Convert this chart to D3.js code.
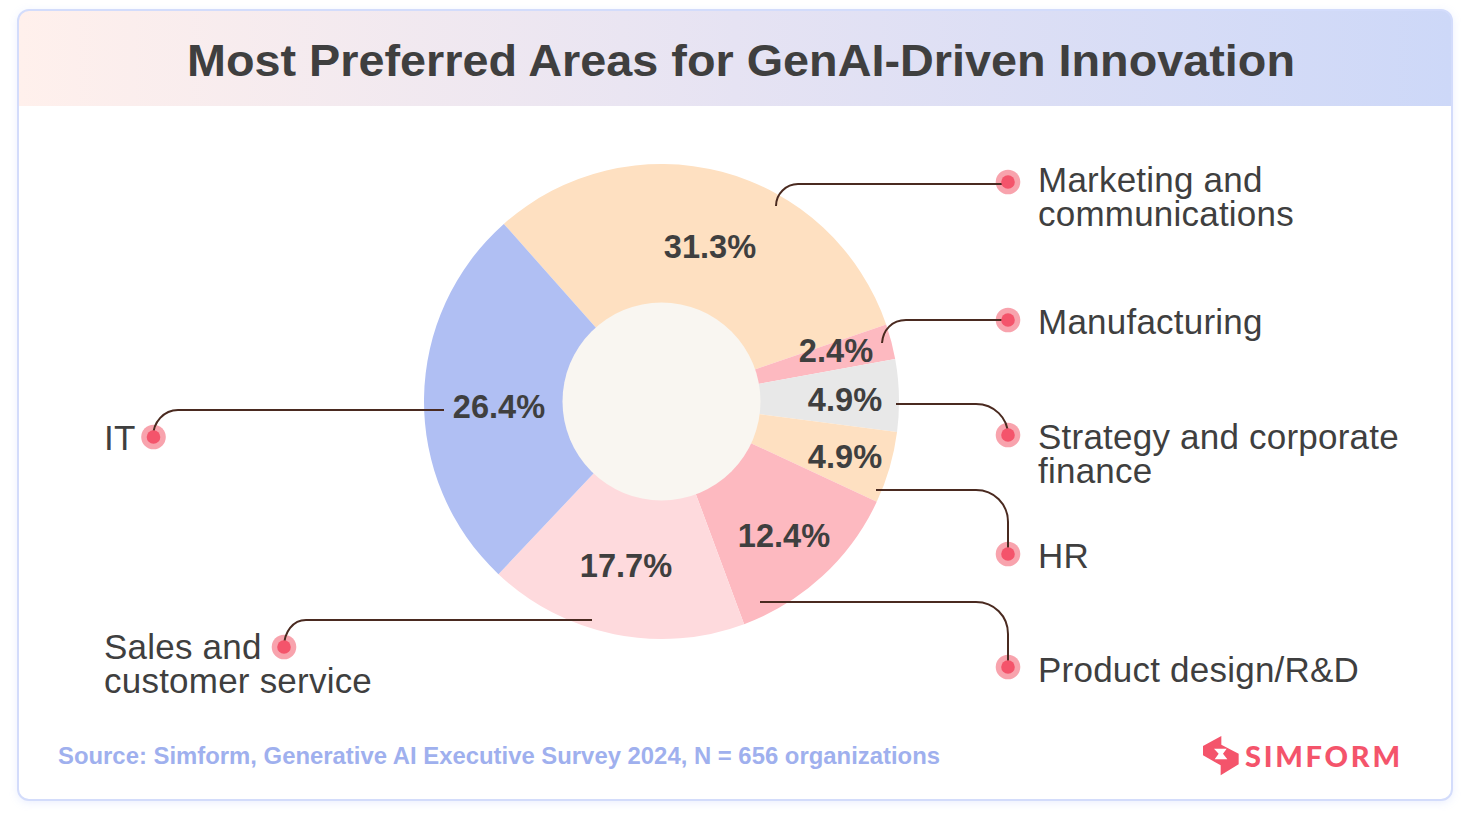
<!DOCTYPE html>
<html><head><meta charset="utf-8">
<script src="https://cdn.jsdelivr.net/npm/d3@7"></script>
<style>html,body{margin:0;padding:0;background:#fff}svg{display:block}text{font-family:"Liberation Sans",Arial,sans-serif}</style>
</head><body><div id="c"></div>
<script>
const titleText = "Most Preferred Areas for GenAI-Driven Innovation";
const sourceText = "Source: Simform, Generative AI Executive Survey 2024, N = 656 organizations";
const categories = ["Marketing and communications","Manufacturing","Strategy and corporate finance","HR","Product design/R&D","Sales and customer service","IT"];
const values = [31.3,2.4,4.9,4.9,12.4,17.7,26.4];
const sliceColors = ["#fee0c1","#fdb9c0","#e8e8e8","#fee0c1","#fdb9c0","#fedadd","#b0bff3"];
// label placement: [x, y] of the percent text centre
const pctPos = [[710,247],[836,351],[845,400],[845,457],[784,536],[626,566],[499,407]];
// callouts: label lines, text anchor, dot, leader path
const labelLines = [["Marketing and","communications"],["Manufacturing"],["Strategy and corporate","finance"],["HR"],["Product design/R&D"],["Sales and","customer service"],["IT"]];
const labelPos = [[1038,180],[1038,322],[1038,437],[1038,556],[1038,670],[104,647],[104,438]];
const dotPos = [[1008,182],[1008,320],[1008,435],[1008,554],[1008,667],[284,647],[153.5,437]];
const leaderPaths = [
 "M776,206V206C776,194 786,184 798,184H1008",
 "M882,343C883,330 892,320 906,320H1008",
 "M896,404H976C994,404 1008,418 1008,435",
 "M876,490H976C994,490 1008,504 1008,522V554",
 "M760,602H976C994,602 1008,616 1008,634V667",
 "M592,620H306C293,620 284,632 284,647",
 "M444,410H178C164,410 153,422 153,437"];
const logoShape = [[70,12],[70,38],[122,65],[122,97],[68,130],[68,100],[15,70],[15,42]];
const logoHole = [[48,50],[86,50],[75,65],[88,82],[50,82],[62,65]];

const W=1469,H=825;
const svg=d3.select("#c").append("svg").attr("width",W).attr("height",H);
const defs=svg.append("defs");
const g=defs.append("linearGradient").attr("id","hd");
g.selectAll("stop").data([[0,"#fff0ec"],[0.5,"#e6e3f3"],[1,"#cdd8f8"]]).join("stop")
 .attr("offset",d=>d[0]).attr("stop-color",d=>d[1]);
const f=defs.append("filter").attr("id","sh").attr("x","-3%").attr("y","-3%").attr("width","106%").attr("height","106%");
f.append("feDropShadow").attr("dx",0).attr("dy",2).attr("stdDeviation",5).attr("flood-color","#c9d3fb").attr("flood-opacity",.45);
defs.append("clipPath").attr("id","card").append("rect").attr("x",18).attr("y",10).attr("width",1434).attr("height",790).attr("rx",11);

svg.append("rect").attr("x",18).attr("y",10).attr("width",1434).attr("height",790).attr("rx",11).attr("fill","#fff").attr("filter","url(#sh)");
svg.append("rect").attr("x",18).attr("y",10).attr("width",1434).attr("height",96).attr("fill","url(#hd)").attr("clip-path","url(#card)");
svg.append("rect").attr("x",18).attr("y",10).attr("width",1434).attr("height",790).attr("rx",11).attr("fill","none").attr("stroke","#d3dcfb").attr("stroke-width",2);

svg.append("text").attr("x",741).attr("y",75.5).attr("text-anchor","middle")
 .attr("font-size",45).attr("font-weight",700).attr("fill","#3f3f3f").attr("textLength",1108).attr("lengthAdjust","spacingAndGlyphs").text(titleText);

const cx=661.5,cy=401.5,R=237.5,r0=99;
const start=-41.6*Math.PI/180;
const pie=d3.pie().sort(null).value(d=>d).startAngle(start).endAngle(start+2*Math.PI);
const arc=d3.arc().innerRadius(r0-1).outerRadius(R);
const chart=svg.append("g").attr("transform",`translate(${cx},${cy})`);
chart.selectAll("path").data(pie(values)).join("path").attr("d",arc).attr("fill",(d,i)=>sliceColors[i]);
chart.append("circle").attr("r",r0).attr("fill","#f9f6f1");

svg.append("g").selectAll("circle").data(dotPos).join("circle").attr("cx",d=>d[0]).attr("cy",d=>d[1]).attr("r",12.3).attr("fill","#f8a3ad");
svg.append("g").selectAll("path").data(leaderPaths).join("path").attr("d",d=>d)
 .attr("fill","none").attr("stroke","#4a2a20").attr("stroke-width",2);
svg.append("g").selectAll("circle").data(dotPos).join("circle").attr("cx",d=>d[0]).attr("cy",d=>d[1]).attr("r",6.8).attr("fill","#f4546b");

svg.append("g").selectAll("text").data(values).join("text")
 .attr("x",(d,i)=>pctPos[i][0]).attr("y",(d,i)=>pctPos[i][1]+11).attr("text-anchor","middle")
 .attr("font-size",32.6).attr("font-weight",700).attr("fill","#3f3f3f").text(d=>d.toFixed(1)+"%");

const lab=svg.append("g").selectAll("text").data(labelLines).join("text")
 .attr("font-size",35).attr("letter-spacing",0.22).attr("fill","#3f3f3f");
lab.each(function(lines,i){
  d3.select(this).selectAll("tspan").data(lines).join("tspan")
    .attr("x",labelPos[i][0]).attr("y",(d,j)=>labelPos[i][1]+j*34+12).text(d=>d);
});

svg.append("text").attr("x",58).attr("y",764).attr("font-size",24).attr("font-weight",700).attr("fill","#9fb0ee").attr("textLength",882).attr("lengthAdjust","spacingAndGlyphs").text(sourceText);

// logo
const lx=d3.scaleLinear().domain([0,150]).range([1198,1248]);
const ly=d3.scaleLinear().domain([0,144]).range([732,780]);
const pts=a=>a.map(p=>lx(p[0])+","+ly(p[1])).join(" ");
svg.append("polygon").attr("points",pts(logoShape)).attr("fill","#f4546b");
svg.append("polygon").attr("points",pts(logoHole)).attr("fill","#fff");
svg.append("text").attr("x",1245).attr("y",767).style("font-family","Lato,sans-serif").attr("font-size",29).attr("font-weight",900).attr("fill","#f4546b").attr("textLength",155).text("SIMFORM");
</script></body></html>
